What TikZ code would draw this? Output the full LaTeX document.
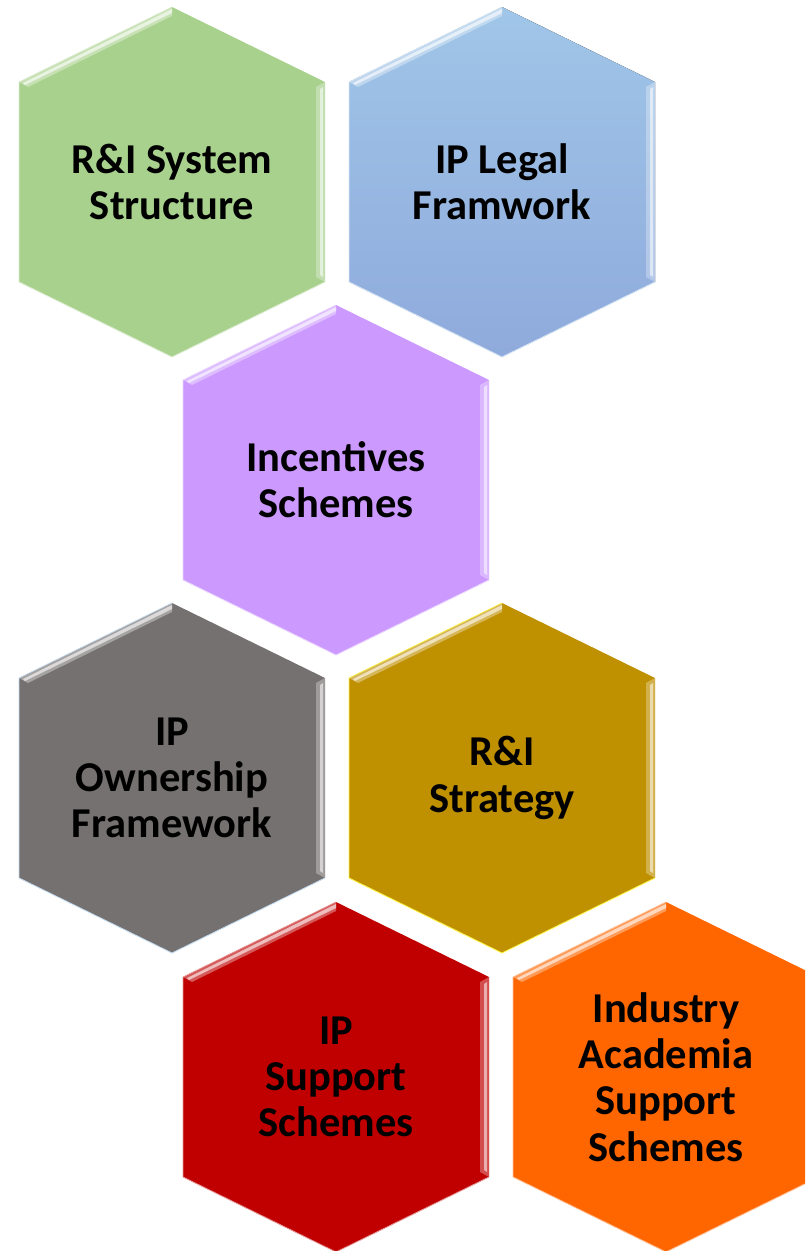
\documentclass[tikz,border=0pt]{standalone}
\usepackage{fontspec}
\newfontfamily\hexlabelfont{Carlito}
\usepackage{tikz}
\usetikzlibrary{positioning}
\definecolor{hxgreen}{RGB}{169, 209, 142}
\definecolor{hxbluetop}{RGB}{160, 198, 232}
\definecolor{hxbluebot}{RGB}{143, 170, 220}
\definecolor{hxpurple}{RGB}{204, 153, 255}
\definecolor{hxgray}{RGB}{118, 113, 113}
\definecolor{hxgold}{RGB}{191, 144, 0}
\definecolor{hxred}{RGB}{192, 0, 0}
\definecolor{hxorange}{RGB}{255, 102, 0}

% bevelled hexagon: #1 centre, #2 fill options, #3 rim colour
\newcommand{\hexface}[3]{%
  \begin{scope}[shift={#1}]
    \fill[#2] (0,-175) -- (153,-100) -- (153,100) -- (0,175)
      -- (-153,100) -- (-153,-100) -- cycle;
    % light bevel on the upper left and right sides
    \fill[white, opacity=0.35] (0,-175) -- (-153,-100) -- (-144,-95) -- (0,-166) -- cycle;
    \fill[white, opacity=0.6] (0,-173) -- (-149,-99) -- (-147,-97) -- (0,-169) -- cycle;
    \fill[white, opacity=0.3] (153,-100) -- (153,100) -- (144,95) -- (144,-95) -- cycle;
    \fill[white, opacity=0.55] (151,-95) -- (151,95) -- (148,93) -- (148,-93) -- cycle;
    % rims
    \draw[#3, line width=0.5pt] (-153,100) -- (0,175) -- (153,100);
    \draw[#3, line width=0.4pt] (0,-175) -- (-153,-100) -- (-153,100);
  \end{scope}}

\tikzset{
  hexlabel/.style={align=center, text=black,
    font=\hexlabelfont\bfseries\fontsize{24.2}{26.3}\selectfont}
}

\begin{document}
\begin{tikzpicture}[x=0.02cm, y=-0.02cm]
  \useasboundingbox (0,0) rectangle (805,1251);
  \clip (0,0) rectangle (805,1251);

  % Row 1: structure and legal framework
  \hexface{(172,182)}{hxgreen}{hxgreen!40!white}
  \node[hexlabel] (sysstruct) at (172,182) {R\&I System\\Structure};

  \hexface{(502,182)}{top color=hxbluetop, bottom color=hxbluebot}{hxbluetop!40!white}
  \node[hexlabel] (legalfw) at (502,182) {IP Legal\\Framwork};

  % Row 2: incentives
  \hexface{(336,480)}{hxpurple}{hxpurple!40!white}
  \node[hexlabel] (incentives) at (336,480) {Incentives\\Schemes};

  % Row 3: ownership and strategy
  \hexface{(172,778)}{hxgray}{hxbluetop!60!white}
  \node[hexlabel] (ownership) at (172,778) {IP\\Ownership\\Framework};

  \hexface{(502,778)}{hxgold}{yellow!70!white}
  \node[hexlabel] (strategy) at (502,778) {R\&I\\Strategy};

  % Row 4: support schemes
  \hexface{(336,1077)}{hxred}{hxred!40!white}
  \node[hexlabel] (ipsupport) at (336,1077) {IP\\Support\\Schemes};

  \hexface{(666,1077)}{hxorange}{hxorange!40!white}
  \node[hexlabel] (industry) at (666,1077) {Industry\\Academia\\Support\\Schemes};
\end{tikzpicture}
\end{document}
